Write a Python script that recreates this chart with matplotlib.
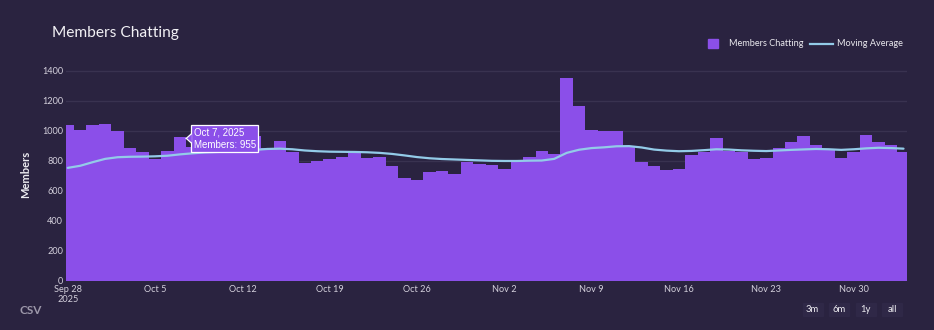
import matplotlib
matplotlib.use("Agg")
import matplotlib.pyplot as plt
import matplotlib.dates as mdates
from matplotlib.patches import Polygon, Rectangle
from matplotlib.lines import Line2D
import pandas as pd

# Daily members chatting, Sep 28 - Dec 4 2025
start_date = "2025-09-28"
members = [
    1038, 1005, 1035, 1045, 1000, 885, 858, 809, 864, 955,
    890, 875, 900, 885, 910, 962, 883, 931, 856, 787,
    800, 813, 827, 865, 818, 825, 765, 687, 673, 725,
    731, 714, 794, 780, 771, 747, 800, 825, 867, 845,
    1351, 1165, 1005, 1000, 998, 900, 794, 767, 740, 747,
    838, 860, 951, 865, 860, 813, 820, 885, 927, 965,
    905, 878, 820, 860, 969, 925, 905, 858,
]
moving_avg = [
    752, 766, 790, 812, 823, 826, 827, 829, 833, 842,
    849, 855, 858, 860, 864, 872, 878, 880, 876, 868,
    863, 860, 859, 858, 856, 852, 845, 835, 824, 816,
    811, 808, 805, 802, 799, 798, 798, 800, 801, 812,
    852, 873, 884, 889, 896, 897, 888, 874, 867, 863,
    865, 870, 876, 874, 869, 866, 864, 868, 872, 875,
    878, 876, 872, 876, 882, 886, 884, 880,
]
y_ticks = [0, 200, 400, 600, 800, 1000, 1200, 1400]
range_buttons = ["3m", "6m", "1y", "all"]
hover_day = "2025-10-07"

dates = pd.date_range(start_date, periods=len(members), freq="D")
xnum = mdates.date2num(dates)

BG = "#2a2340"
BAR = "#8b4fe9"
LINE = "#93cbe8"
GRID = "#393250"
TXT = "#d4d0dc"
FONT = "Lato"

fig = plt.figure(figsize=(9.34, 3.30), dpi=100)
fig.patch.set_facecolor(BG)
W, H = 934, 330
ax = fig.add_axes([66 / W, 49.3 / H, (907 - 66) / W, (280.7 - 67.5) / H])
ax.set_facecolor(BG)

ax.bar(xnum, members, width=1.0, align="center", color=BAR,
       linewidth=0, antialiased=False, zorder=2)
ax.plot(xnum, moving_avg, color=LINE, linewidth=1.6, zorder=3,
        solid_capstyle="round")

ax.set_xlim(xnum[0] - 0.14, xnum[-1] + 0.28)
ax.set_ylim(0, 1421)
ax.set_yticks(y_ticks)
ax.set_yticklabels([str(v) for v in y_ticks])
ax.yaxis.grid(True, color=GRID, linewidth=1.0)
ax.set_axisbelow(True)

week_ticks = pd.date_range(start_date, dates[-1], freq="7D")
ax.set_xticks(mdates.date2num(week_ticks))
labels = [d.strftime("%b ") + str(d.day) for d in week_ticks]
labels[0] = labels[0] + "\n" + str(week_ticks[0].year)
ax.set_xticklabels(labels)

for s in ax.spines.values():
    s.set_visible(False)
ax.tick_params(axis="both", length=0, colors=TXT, labelsize=6.6)
ax.tick_params(axis="y", pad=2)
ax.tick_params(axis="x", pad=3)
for t in ax.get_xticklabels() + ax.get_yticklabels():
    t.set_fontfamily(FONT)
    t.set_color(TXT)

ax.set_ylabel("Members", color="#ecebf0", fontsize=8, fontfamily=FONT,
              fontweight="bold", labelpad=8)

fig.text(52 / W, 1 - 37.5 / H, "Members Chatting", color="#f2f1f5",
         fontsize=11.2, fontfamily=FONT, ha="left", va="baseline")

# Legend
fig.patches.append(Rectangle((708 / W, 1 - 48.3 / H), 9.7 / W, 9.3 / H,
                             transform=fig.transFigure, color=BAR))
fig.text(729 / W, 1 - 44 / H, "Members Chatting", color="#ecebf0",
         fontsize=6.6, fontfamily=FONT, va="center", ha="left")
fig.lines.append(Line2D([810 / W, 833 / W], [1 - 43.5 / H, 1 - 43.5 / H],
                        transform=fig.transFigure, color=LINE, linewidth=1.6))
fig.text(837 / W, 1 - 44 / H, "Moving Average", color="#ecebf0",
         fontsize=6.6, fontfamily=FONT, va="center", ha="left")

# CSV label
fig.text(19 / W, 1 - 310 / H, "CSV", color="#9d98aa", fontsize=8.5,
         fontfamily=FONT, fontweight="bold", va="center", ha="left")

# Range selector buttons
btn_centers = [812.7, 839.0, 865.7, 892.0]
for cx, lab in zip(btn_centers, range_buttons):
    fig.patches.append(Rectangle(((cx - 10) / W, 1 - 316 / H), 20 / W, 12.7 / H,
                                 transform=fig.transFigure, color="#2f2847"))
    fig.text(cx / W, 1 - 309.5 / H, lab, color="#ecebf0", fontsize=6.8,
             fontfamily=FONT, ha="center", va="center")

# Hover tooltip for one day
fig.canvas.draw()
hi = list(dates).index(pd.Timestamp(hover_day))
tx, ty = ax.transData.transform((xnum[hi] + 0.5, members[hi]))
ty -= 1.0
box_l, box_w, box_h = tx + 5, 66.5, 27.4
box = Rectangle((box_l, ty - box_h / 2), box_w, box_h, transform=None,
                facecolor=BAR, edgecolor="white", linewidth=0.9, zorder=10)
fig.patches.append(box)
arrow = Polygon([(tx, ty), (box_l + 0.6, ty + 4.5), (box_l + 0.6, ty - 4.5)],
                closed=True, transform=None, facecolor=BAR, edgecolor="none",
                zorder=11)
fig.patches.append(arrow)
fig.lines.append(Line2D([tx, box_l], [ty, ty + 4.5],
                        transform=None, color="white", linewidth=0.9, zorder=12))
fig.lines.append(Line2D([tx, box_l], [ty, ty - 4.5],
                        transform=None, color="white", linewidth=0.9, zorder=12))
d = dates[hi]
tip_text = f"{d.strftime('%b')} {d.day}, {d.year}\nMembers: {members[hi]}"
fig.text((box_l + 2.5) / W, ty / H, tip_text, color="white", fontsize=7,
         fontfamily="Liberation Sans", ha="left", va="center",
         linespacing=1.35, zorder=13)

fig.savefig("out.png", dpi=100, facecolor=BG)
